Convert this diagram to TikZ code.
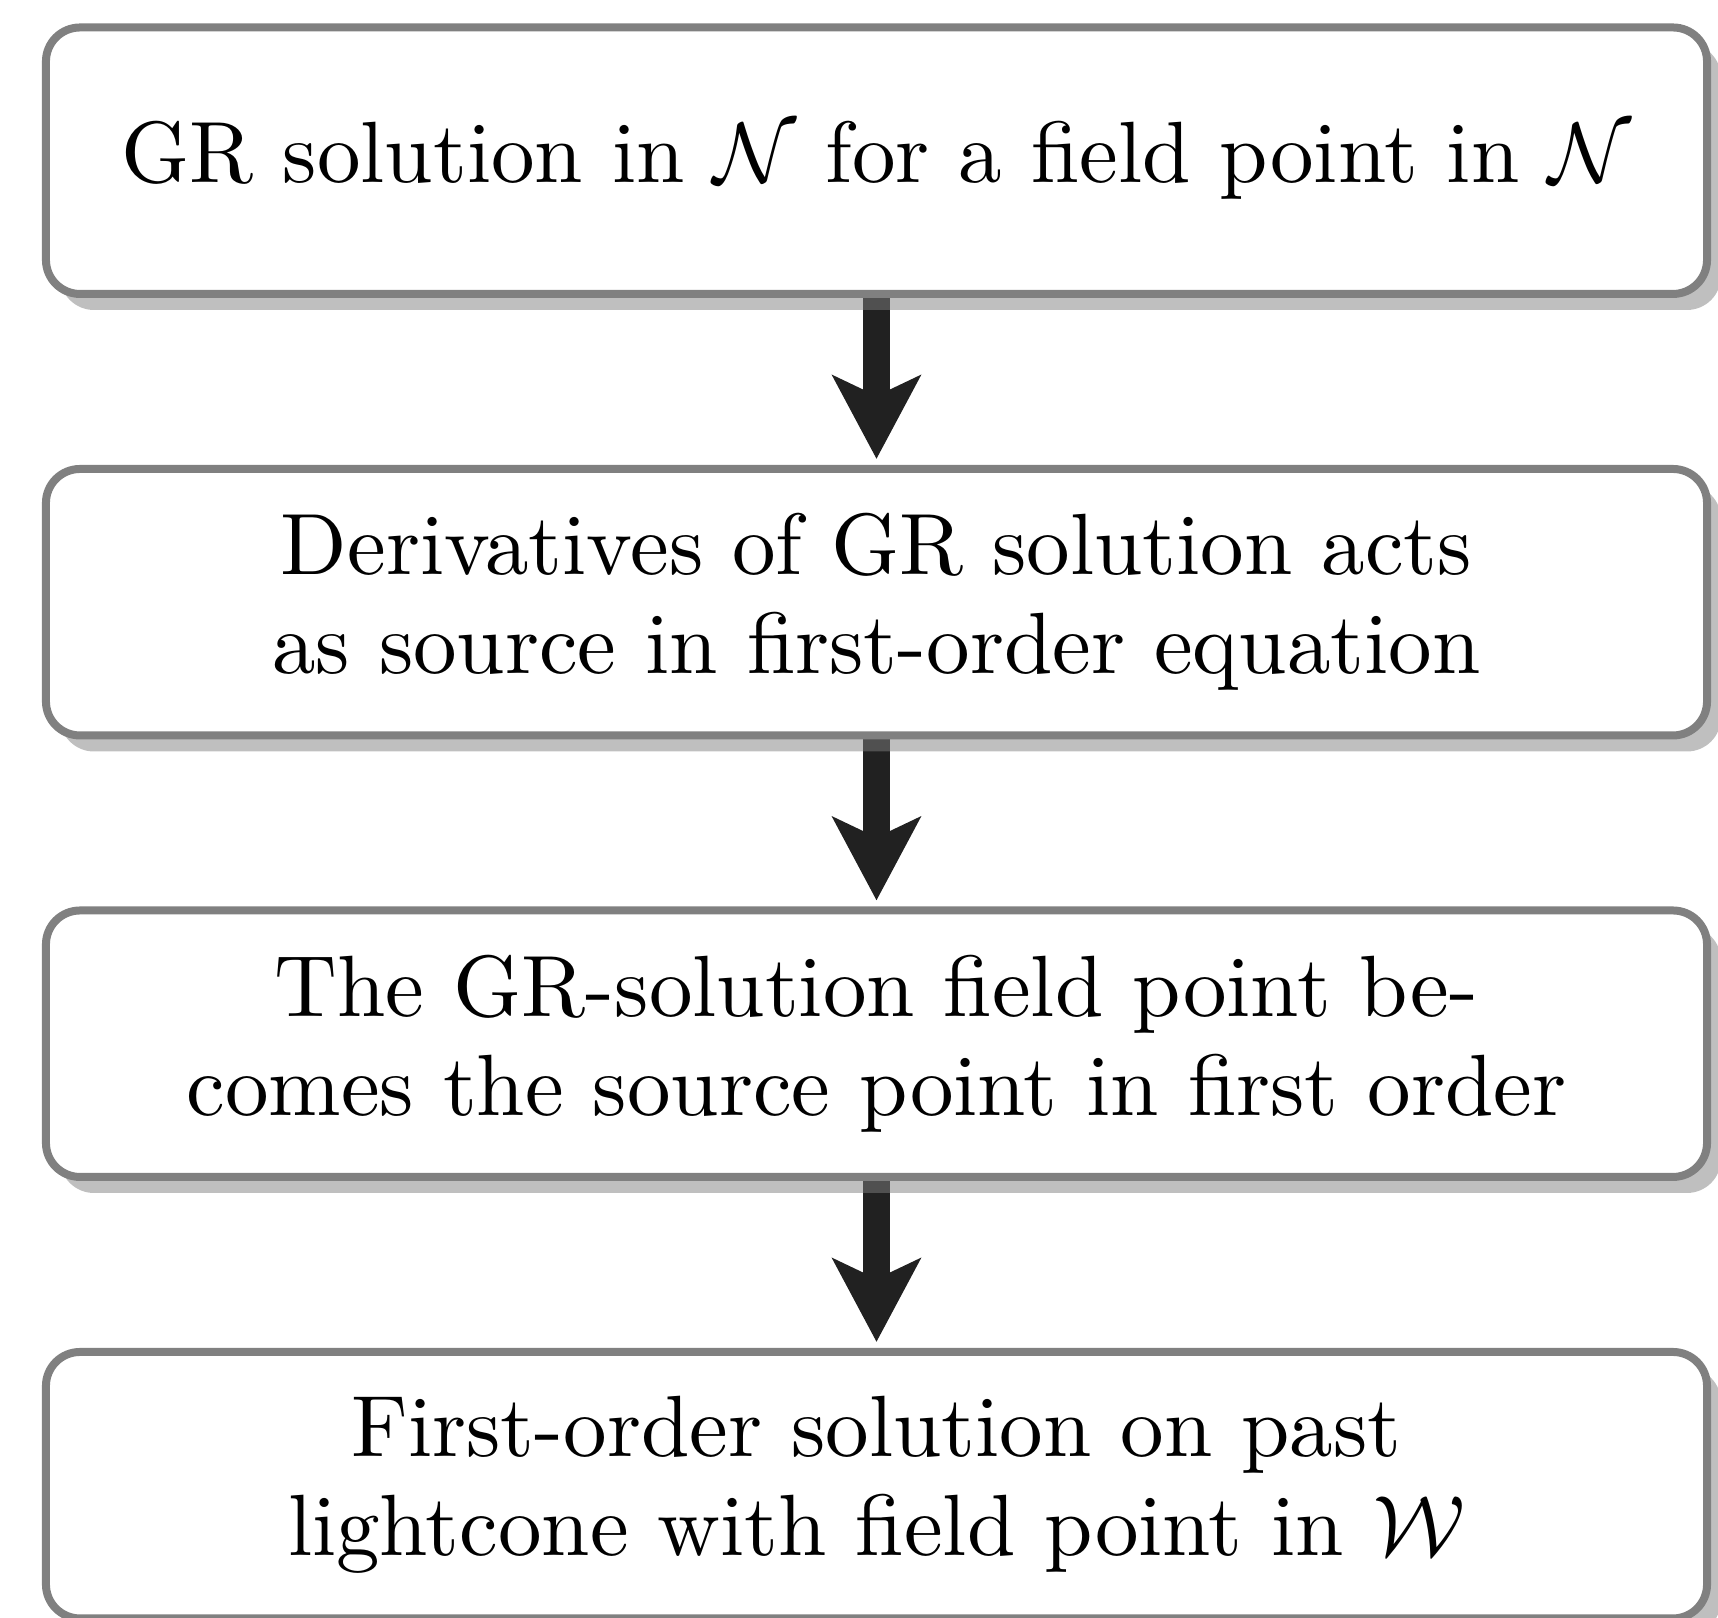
\documentclass[tikz,border=0pt]{standalone}
\usetikzlibrary{arrows.meta,shadows,backgrounds}
\begin{document}
\begin{tikzpicture}[x=0.11667pt,y=-0.11667pt,
  stepbox/.style={draw=black!50, line width=0.933pt, rounded corners=3.97pt,
    fill=white, minimum width=193.8pt, minimum height=31.09pt, align=center,
    font=\fontsize{10.15}{11.55}\selectfont,
    drop shadow={shadow xshift=1.63pt, shadow yshift=-1.87pt, opacity=.5, fill=black!50}},
  flow/.style={line width=3.15pt, draw=black!87,
    -{Stealth[length=9.68pt,width=10.15pt,inset=2.33pt]}, shorten >=0.7pt}]
\useasboundingbox (0,0) rectangle (1718,1618);

\node[stepbox] (s1) at (876.5,160.75)
  {GR solution in $\mathcal{N}$ for a field point in $\mathcal{N}$};
\node[stepbox] (s2) at (876.5,602.25)
  {Derivatives of GR solution acts\\as source in first-order equation};
\node[stepbox] (s3) at (876.5,1043.75)
  {The GR-solution field point be-\\comes the source point in first order};
\node[stepbox] (s4) at (876.5,1485.25)
  {First-order solution on past\\lightcone with field point in $\mathcal{W}$};

% arrows sit underneath the boxes and their shadows
\begin{pgfonlayer}{background}
  \draw[flow] (s1.south) -- (s2.north);
  \draw[flow] (s2.south) -- (s3.north);
  \draw[flow] (s3.south) -- (s4.north);
\end{pgfonlayer}
\end{tikzpicture}
\end{document}
